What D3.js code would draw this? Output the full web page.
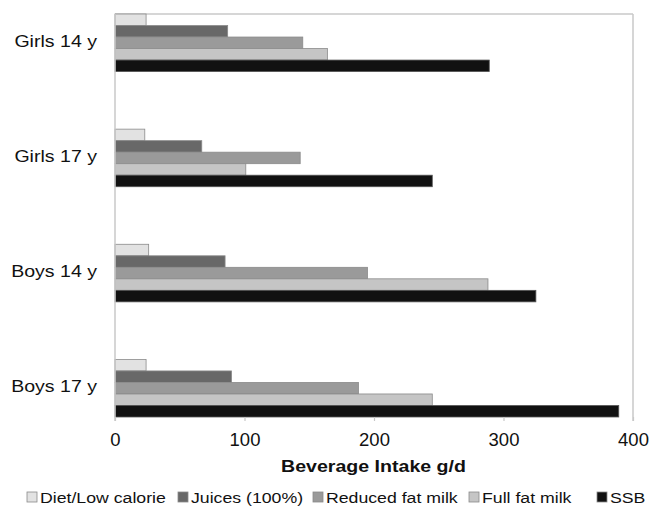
<!DOCTYPE html>
<meta charset="utf-8">
<style>
body { margin: 0; background: #fff; }
text { font-family: "Liberation Sans", Arial, sans-serif; fill: #111; }
</style>
<body>
<script src="https://d3js.org/d3.v7.min.js"></script>
<script>

// categories and series
var groups = ["Girls 14 y", "Girls 17 y", "Boys 14 y", "Boys 17 y"];
var series = ["Diet/Low calorie", "Juices (100%)", "Reduced fat milk", "Full fat milk", "SSB"];
var dietLow = [24, 23, 26, 24];
var juices = [87, 67, 85, 90];
var reducedMilk = [145, 143, 195, 188];
var fullMilk = [164, 101, 288, 245];
var ssb = [289, 245, 325, 389];
var xTicks = [0, 100, 200, 300, 400];

var values = [dietLow, juices, reducedMilk, fullMilk, ssb];
var colors = ["#e2e2e2", "#686868", "#9a9a9a", "#c5c5c5", "#111111"];
var stretch = 1.2;  // the picture's text is a bit wide

var W = 652, H = 510;
var margin = {top: 14, right: 19, bottom: 93, left: 115},
    width = W - margin.left - margin.right,
    height = H - margin.top - margin.bottom;

var svg = d3.select("body").append("svg")
    .attr("width", W)
    .attr("height", H);

var g = svg.append("g")
    .attr("transform", "translate(" + margin.left + "," + margin.top + ")");

var x = d3.scaleLinear().domain([0, 400]).range([0, width]);
var y = d3.scaleBand().domain(groups).range([0, height]).paddingInner(0.5).paddingOuter(0);
var y1 = d3.scaleBand().domain(series).range([0, y.bandwidth()]);

// frame: top and right
g.append("line").attr("x1", 0).attr("x2", width).attr("y1", 0).attr("y2", 0)
    .attr("stroke", "#c8c8c8").attr("stroke-width", 1.5);
g.append("line").attr("x1", width).attr("x2", width).attr("y1", 0).attr("y2", height + 4)
    .attr("stroke", "#c8c8c8").attr("stroke-width", 1.5);

// bars
series.forEach(function(s, i) {
  g.selectAll(".bar" + i)
    .data(groups)
    .enter().append("rect")
      .attr("x", x(0))
      .attr("y", function(d) { return y(d) + y1(s); })
      .attr("width", function(d, j) { return x(values[i][j]) - x(0); })
      .attr("height", y1.bandwidth())
      .attr("fill", colors[i])
      .attr("stroke", i == 4 ? "#555" : "#8a8a8a")
      .attr("stroke-width", 0.8);
});

// x axis
var xa = g.append("g")
    .attr("transform", "translate(0," + height + ")")
    .call(d3.axisBottom(x).tickValues(xTicks).tickSize(4).tickPadding(11.5));
xa.select(".domain").remove();
xa.selectAll(".tick line").attr("stroke", "#c8c8c8").attr("stroke-width", 1.2);
xa.selectAll(".tick text")
    .attr("font-size", "18.5px")
    .attr("font-family", "Liberation Sans, Arial, sans-serif")
    .attr("fill", "#111");

// y axis
var ya = g.append("g")
    .call(d3.axisLeft(y).tickSize(0).tickPadding(15));
ya.select(".domain").attr("stroke", "#c8c8c8").attr("stroke-width", 1.5)
    .attr("d", "M0,0V" + (height + 4));
ya.selectAll(".tick").attr("transform", function(d) {
  return "translate(0," + (y(d) + y.bandwidth() / 2 - 1) + ")";
});
ya.selectAll(".tick text")
    .attr("font-size", "16.3px")
    .attr("font-family", "Liberation Sans, Arial, sans-serif")
    .attr("fill", "#111")
    .attr("transform", "scale(" + stretch + ",1)");

// x title
svg.append("text")
    .attr("transform", "translate(" + (margin.left + width / 2 - 0.5) + ",472) scale(" + stretch + ",1)")
    .attr("text-anchor", "middle")
    .attr("font-size", "16.3px")
    .attr("font-weight", "bold")
    .text("Beverage Intake g/d");

// legend
var legendX = [27, 178, 313, 469, 597];
var legend = svg.selectAll(".legend")
    .data(series)
    .enter().append("g")
      .attr("transform", function(d, i) { return "translate(" + legendX[i] + ",503)"; });
legend.append("rect")
    .attr("x", 0).attr("y", -11)
    .attr("width", 10).attr("height", 10)
    .attr("fill", function(d, i) { return colors[i]; })
    .attr("stroke", "#8a8a8a").attr("stroke-width", 0.8);
legend.append("text")
    .attr("transform", "translate(13,0) scale(1.18,1)")
    .attr("font-size", "15px")
    .text(function(d) { return d; });

</script>
</body>
